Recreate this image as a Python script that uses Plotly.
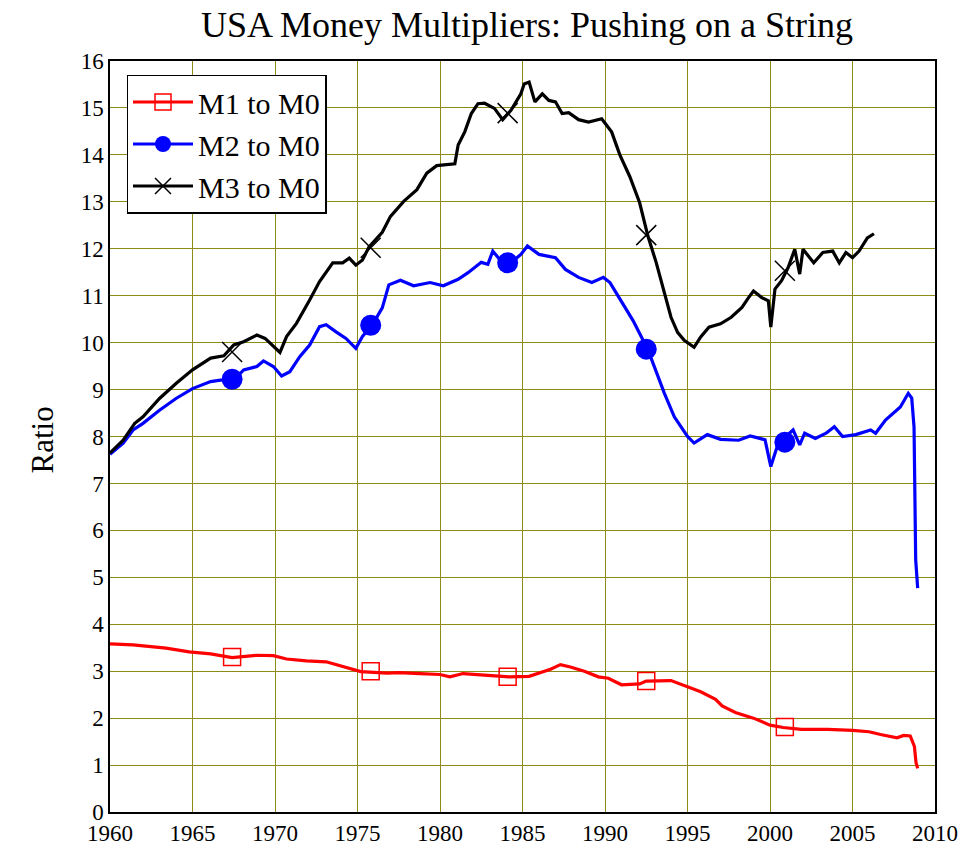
import plotly.graph_objects as go

# M1 / M0 ratio
m1_year = [1960.0, 1961.4, 1963.4, 1964.8, 1966.1, 1967.4, 1968.9, 1969.9, 1970.7, 1971.9,
           1973.1, 1974.4, 1975.2, 1976.8, 1977.5, 1978.8, 1980.0, 1980.6, 1981.4, 1982.9,
           1984.2, 1985.4, 1986.7, 1987.3, 1987.9, 1988.75, 1989.6, 1990.2, 1991.0, 1992.1,
           1992.5, 1994.0, 1995.0, 1995.8, 1996.7, 1997.1, 1997.9, 1999.0, 2000.0, 2000.8,
           2001.9, 2003.5, 2005.0, 2006.0, 2006.7, 2007.7, 2008.1, 2008.5, 2008.75, 2008.85,
           2008.95]
m1_val = [3.58, 3.56, 3.49, 3.41, 3.37, 3.29, 3.34, 3.33, 3.26, 3.22,
          3.20, 3.07, 2.99, 2.96, 2.97, 2.95, 2.93, 2.88, 2.95, 2.91,
          2.88, 2.89, 3.04, 3.14, 3.09, 3.00, 2.88, 2.85, 2.71, 2.73,
          2.79, 2.80, 2.66, 2.56, 2.40, 2.26, 2.12, 2.00, 1.85, 1.80,
          1.76, 1.76, 1.74, 1.71, 1.65, 1.58, 1.63, 1.62, 1.40, 1.05,
          0.93]

# M2 / M0 ratio
m2_year = [1960.0, 1960.8, 1961.4, 1962.0, 1963.0, 1964.0, 1965.0, 1966.1, 1966.7, 1967.5,
           1968.1, 1968.9, 1969.3, 1969.9, 1970.4, 1970.9, 1971.5, 1972.1, 1972.7, 1973.1,
           1973.7, 1974.3, 1974.9, 1975.3, 1975.9, 1976.5, 1976.9, 1977.6, 1978.4, 1979.4,
           1980.2, 1981.1, 1981.7, 1982.5, 1982.9, 1983.2, 1983.6, 1984.3, 1984.9, 1985.3,
           1986.0, 1987.0, 1987.6, 1988.4, 1989.2, 1989.9, 1990.3, 1990.9, 1991.7, 1992.6,
           1993.0, 1993.6, 1994.2, 1995.0, 1995.4, 1996.2, 1997.0, 1998.1, 1998.8, 1999.7,
           2000.05, 2000.5, 2001.4, 2001.8, 2002.1, 2002.75, 2003.4, 2003.9, 2004.4, 2005.2,
           2006.1, 2006.4, 2007.0, 2007.9, 2008.38, 2008.59, 2008.73, 2008.83, 2008.95]
m2_val = [7.62, 7.86, 8.14, 8.28, 8.56, 8.81, 9.02, 9.17, 9.20, 9.20,
          9.42, 9.49, 9.61, 9.49, 9.29, 9.38, 9.70, 9.95, 10.34, 10.38,
          10.23, 10.09, 9.88, 10.13, 10.38, 10.74, 11.23, 11.33, 11.21, 11.28,
          11.21, 11.35, 11.49, 11.71, 11.67, 11.95, 11.78, 11.70, 11.88, 12.06,
          11.88, 11.81, 11.56, 11.39, 11.28, 11.39, 11.28, 10.93, 10.47, 9.85,
          9.48, 8.92, 8.42, 8.00, 7.86, 8.04, 7.94, 7.92, 8.01, 7.93,
          7.36, 7.86, 8.14, 7.82, 8.07, 7.96, 8.07, 8.21, 8.00, 8.04,
          8.14, 8.07, 8.35, 8.63, 8.92, 8.82, 8.20, 5.37, 4.77]

# M3 / M0 ratio
m3_year = [1960.0, 1960.8, 1961.5, 1962.0, 1963.0, 1964.0, 1965.0, 1966.1, 1966.9, 1967.5,
           1968.1, 1968.9, 1969.4, 1969.9, 1970.3, 1970.7, 1971.3, 1972.1, 1972.7, 1973.5,
           1974.1, 1974.5, 1974.9, 1975.3, 1975.7, 1976.5, 1977.0, 1977.8, 1978.6, 1979.2,
           1979.8, 1980.9, 1981.1, 1981.5, 1981.9, 1982.3, 1982.7, 1983.3, 1983.8, 1984.3,
           1984.9, 1985.1, 1985.4, 1985.75, 1986.2, 1986.6, 1987.0, 1987.4, 1987.8, 1988.4,
           1989.0, 1989.8, 1990.4, 1990.9, 1991.5, 1992.1, 1992.6, 1993.1, 1993.6, 1994.0,
           1994.4, 1994.8, 1995.4, 1995.8, 1996.3, 1997.0, 1997.65, 1998.3, 1998.7, 1999.0,
           1999.5, 1999.9, 2000.05, 2000.3, 2000.7, 2001.1, 2001.5, 2001.8, 2002.0, 2002.65,
           2003.2, 2003.8, 2004.2, 2004.6, 2005.0, 2005.4, 2005.9, 2006.3]
m3_val = [7.65, 7.92, 8.28, 8.42, 8.81, 9.13, 9.42, 9.67, 9.72, 9.95,
          10.02, 10.16, 10.09, 9.91, 9.79, 10.13, 10.41, 10.91, 11.30, 11.70,
          11.70, 11.80, 11.65, 11.76, 12.04, 12.35, 12.69, 13.01, 13.26, 13.61,
          13.77, 13.81, 14.21, 14.49, 14.88, 15.09, 15.10, 14.99, 14.75, 14.95,
          15.30, 15.51, 15.55, 15.13, 15.30, 15.16, 15.13, 14.88, 14.90, 14.75,
          14.70, 14.77, 14.49, 14.00, 13.54, 12.98, 12.27, 11.71, 11.03, 10.54,
          10.22, 10.05, 9.90, 10.12, 10.33, 10.40, 10.54, 10.75, 10.96, 11.10,
          10.96, 10.89, 10.33, 11.14, 11.32, 11.60, 11.99, 11.46, 11.99, 11.70,
          11.92, 11.95, 11.70, 11.92, 11.81, 11.95, 12.23, 12.32]

# marker positions along each series
mk_year = [1967.4, 1975.8, 1984.1, 1992.5, 2000.9]
m1_mk = [3.30, 3.00, 2.88, 2.79, 1.81]
m2_mk = [9.22, 10.37, 11.70, 9.86, 7.88]
m3_mk = [9.80, 12.02, 14.89, 12.29, 11.53]

SERIF = "Liberation Serif"
GRID = "rgb(140,140,20)"

series = [
    ("M1 to M0", m1_year, m1_val, m1_mk, "red",
     dict(symbol="square-open", size=17, color="red", line=dict(color="red", width=1.5))),
    ("M2 to M0", m2_year, m2_val, m2_mk, "blue",
     dict(symbol="circle", size=21, color="blue", line=dict(width=0))),
    ("M3 to M0", m3_year, m3_val, m3_mk, "black",
     dict(symbol="x-thin-open", size=20, color="black", line=dict(color="black", width=1.5))),
]

fig = go.Figure()
for name, xs, ys, mks, col, mk in series:
    fig.add_trace(go.Scatter(x=xs, y=ys, mode="lines", line=dict(color=col, width=3.2),
                             showlegend=False, hoverinfo="skip"))
    fig.add_trace(go.Scatter(x=mk_year, y=mks, mode="markers", marker=mk,
                             showlegend=False, hoverinfo="skip"))
    # legend entry
    fig.add_trace(go.Scatter(x=[None], y=[None], mode="lines+markers", name=name,
                             line=dict(color=col, width=3.2), marker=mk))

fig.update_layout(
    width=967, height=849,
    margin=dict(l=110, r=32, t=61, b=37, autoexpand=False),
    paper_bgcolor="white", plot_bgcolor="white",
    font=dict(family=SERIF, size=22, color="black"),
    title=dict(text="USA Money Multipliers: Pushing on a String", x=0.545, xanchor="center",
               y=0.971, yanchor="middle", font=dict(family=SERIF, size=36)),
    legend=dict(x=0.02, y=0.982, xanchor="left", yanchor="top", bgcolor="white",
                bordercolor="black", borderwidth=1.5, font=dict(family=SERIF, size=30),
                itemwidth=60, tracegroupgap=0),
    annotations=[dict(text="Ratio", x=(22 - 110) / 825, y=1 - (440 - 61) / 751,
                      xref="paper", yref="paper", showarrow=False,
                      textangle=-90, font=dict(family=SERIF, size=31))],
)

fig.update_xaxes(range=[1960, 2010], dtick=5, tick0=1960, showgrid=True,
                 gridcolor=GRID, gridwidth=1.2, zeroline=False, automargin=False,
                 showline=True, linecolor="black", linewidth=1.5, mirror=True,
                 ticks="", tickfont=dict(family=SERIF, size=23))
fig.update_yaxes(range=[0, 16], dtick=1, showgrid=True,
                 gridcolor=GRID, gridwidth=1.2, zeroline=False, automargin=False,
                 showline=True, linecolor="black", linewidth=1.5, mirror=True,
                 ticks="", tickfont=dict(family=SERIF, size=23))

# drop the default page margin so the figure sits at the window's corner
fig.write_html("out.html", config={"displayModeBar": False},
               post_script="document.body.style.margin='0px';")
